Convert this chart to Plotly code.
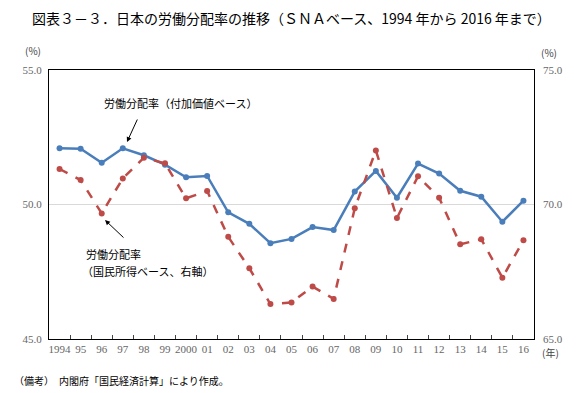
import plotly.graph_objects as go

years = ["1994", "95", "96", "97", "98", "99", "2000", "01", "02", "03", "04", "05",
         "06", "07", "08", "09", "10", "11", "12", "13", "14", "15", "16"]
value_added = [52.09, 52.07, 51.55, 52.09, 51.83, 51.48, 51.01, 51.06, 49.71, 49.28, 48.56, 48.72,
               49.16, 49.05, 50.48, 51.25, 50.25, 51.52, 51.15, 50.51, 50.29, 49.36, 50.14]
national_income = [71.32, 70.91, 69.67, 70.97, 71.74, 71.53, 70.23, 70.50, 68.80, 67.63, 66.30, 66.36,
                   66.95, 66.49, 69.86, 72.01, 69.50, 71.05, 70.25, 68.52, 68.71, 67.28, 68.67]

BLUE = "#4A7EBB"
RED = "#BE4B48"
CJK = "Noto Sans CJK JP"
TICKFONT = dict(family="Liberation Serif, " + CJK, size=11, color="#666666")

fig = go.Figure()
fig.add_trace(go.Scatter(x=years, y=value_added, mode="lines+markers",
                         line=dict(color=BLUE, width=2.5),
                         marker=dict(color=BLUE, size=6), yaxis="y", showlegend=False))
fig.add_trace(go.Scatter(x=years, y=national_income, mode="lines+markers",
                         line=dict(color=RED, width=2.5, dash="dash"),
                         marker=dict(color=RED, size=6), yaxis="y2", showlegend=False))

L, R, T, B = 49, 48, 70, 54
W, H = 582, 393
pw, ph = W - L - R, H - T - B


def px(x):
    return (x - L) / pw


def py(y):
    return (H - B - y) / ph


def label(text, x, y, size=10, color="#444", xanchor="center"):
    return dict(text=text, xref="paper", yref="paper", x=px(x), y=py(y), showarrow=False,
                xanchor=xanchor, yanchor="middle", align=xanchor if xanchor != "center" else "center",
                font=dict(family=CJK, size=size, color=color))


fig.update_layout(
    width=W, height=H,
    margin=dict(l=L, r=R, t=T, b=B, autoexpand=False),
    plot_bgcolor="white", paper_bgcolor="white",
    xaxis=dict(type="category", range=[-0.5, len(years) - 0.5], showline=True, linecolor="black",
               linewidth=1, mirror=True,
               ticks="inside", ticklen=4, tickcolor="#444", tickson="boundaries",
               tickangle=0, automargin=False,
               tickfont=TICKFONT, showgrid=False, zeroline=False),
    yaxis=dict(range=[45, 55], dtick=5, tickformat=".1f", showline=True, linecolor="black",
               linewidth=1, mirror=True, showgrid=True, gridcolor="#D9D9D9", gridwidth=1,
               tickfont=TICKFONT, zeroline=False, ticks="", automargin=False, ticklabelstandoff=4),
    yaxis2=dict(range=[65, 75], dtick=5, tickformat=".1f", overlaying="y", side="right",
                showgrid=False, tickfont=TICKFONT, zeroline=False, showline=False, ticks="",
                automargin=False, ticklabelstandoff=8),
    annotations=[
        label("図表３－３．日本の労働分配率の推移（ＳＮＡベース、1994 年から 2016 年まで）",
              291, 18, size=14, color="black"),
        label("(%)", 33, 50),
        label("(%)", 549, 53),
        label("(年)", 550, 352),
        label("（備考）　内閣府「国民経済計算」により作成。", 12, 380, color="black", xanchor="left"),
        label("労働分配率（付加価値ベース）", 180, 103, size=11, color="black"),
        dict(text="", xref="paper", yref="paper", x=px(127), y=py(142),
             ax=11, ay=-24, showarrow=True, arrowhead=2, arrowsize=1, arrowwidth=1,
             arrowcolor="black"),
        label("労働分配率", 84, 254, size=11, color="black", xanchor="left"),
        label("（国民所得ベース、右軸）", 80, 271, size=11, color="black", xanchor="left"),
        dict(text="", xref="paper", yref="paper", x=px(105), y=py(220),
             ax=20, ay=19, showarrow=True, arrowhead=2, arrowsize=1, arrowwidth=1,
             arrowcolor="black"),
    ],
)

fig.write_html("out.html", post_script="document.body.style.margin='0';",
               config={"displayModeBar": False})
